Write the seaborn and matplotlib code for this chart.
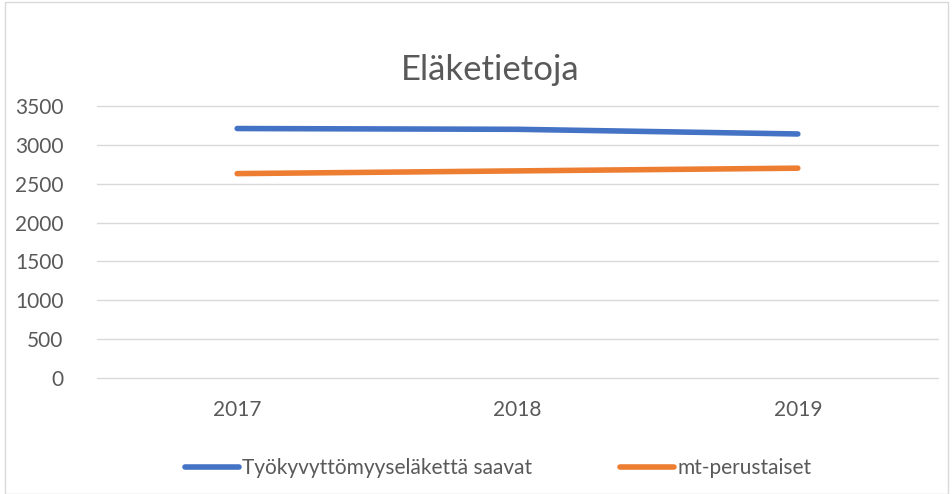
import matplotlib.pyplot as plt
import seaborn as sns
import pandas as pd
from matplotlib.patches import Rectangle
from matplotlib.lines import Line2D

years = ['2017', '2018', '2019']
tyokyvyttomyys = [3210, 3200, 3140]
mt_perustaiset = [2630, 2665, 2700]
series_names = ['Työkyvyttömyyseläkettä saavat', 'mt-perustaiset']
colors = ['#4472C4', '#ED7D31']

df = pd.DataFrame({
    'Vuosi': years * 2,
    'Arvo': tyokyvyttomyys + mt_perustaiset,
    'Sarja': [series_names[0]] * 3 + [series_names[1]] * 3,
})

sns.set_theme(style='white')
plt.rcParams['font.family'] = ['Lato', 'DejaVu Sans']
text_color = '#595959'

fig = plt.figure(figsize=(9.53, 4.94), dpi=100)
ax = fig.add_axes([97 / 953, 1 - 378 / 494, (938 - 97) / 953, (378 - 106) / 494])

sns.lineplot(data=df, x='Vuosi', y='Arvo', hue='Sarja', palette=colors,
             linewidth=4, sort=False, ax=ax, legend=False,
             solid_capstyle='round')

ax.set_xlim(-0.5, 2.5)
ax.set_ylim(0, 3500)
ax.set_yticks(range(0, 3501, 500))
ax.grid(axis='y', color='#D9D9D9', linewidth=1)
for gl in ax.get_ygridlines():
    gl.set_clip_on(False)
ax.set_axisbelow(True)
for s in ax.spines.values():
    s.set_visible(False)
ax.tick_params(axis='both', length=0, labelsize=15, labelcolor=text_color)
ax.tick_params(axis='x', pad=16)
ax.tick_params(axis='y', pad=24)
ax.set_xlabel('')
ax.set_ylabel('')

fig.text(490 / 953, 1 - 70 / 494, 'Eläketietoja', ha='center', va='center',
         fontsize=25, color=text_color)

# legend
handles = [Line2D([0], [0], color=c, linewidth=4, solid_capstyle='round') for c in colors]
fig.legend(handles, series_names, loc='center', bbox_to_anchor=(498 / 953, 1 - 468 / 494),
           ncol=2, frameon=False, fontsize=15, labelcolor=text_color,
           handlelength=2.6, columnspacing=4.2, handletextpad=0.15)

fig.patches.append(Rectangle((5 / 953, 0), 943 / 953, 1 - 2 / 494, transform=fig.transFigure,
                             fill=False, edgecolor='#D9D9D9', linewidth=1))

fig.savefig('out.png', dpi=100)
